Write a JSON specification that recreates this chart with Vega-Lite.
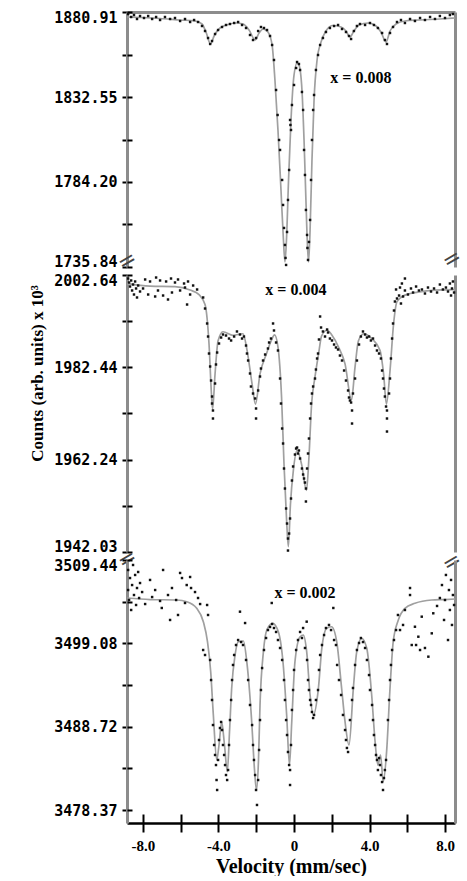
{
"$schema": "https://vega.github.io/schema/vega-lite/v6.json",
"padding": {"left": 28, "top": 10, "right": 2, "bottom": 0},
"bounds": "flush",
"spacing": 8,
"config": {"view": {"stroke": null}, "axis": {"grid": false}},
"datasets": {
"f1": [{"v":-8.84,"c":1878.07},{"v":-8.15,"c":1877.78},{"v":-7.09,"c":1877.21},{"v":-6.03,"c":1876.36},{"v":-5.24,"c":1875.79},{"v":-4.87,"c":1874.08},{"v":-4.66,"c":1869.53},{"v":-4.42,"c":1862.71},{"v":-4.23,"c":1867.26},{"v":-3.92,"c":1871.81},{"v":-3.49,"c":1873.8},{"v":-3.07,"c":1874.65},{"v":-2.7,"c":1874.08},{"v":-2.38,"c":1870.67},{"v":-2.06,"c":1864.98},{"v":-1.85,"c":1868.96},{"v":-1.64,"c":1871.24},{"v":-1.38,"c":1869.53},{"v":-1.16,"c":1862.14},{"v":-1.01,"c":1842.23},{"v":-0.85,"c":1813.79},{"v":-0.69,"c":1779.66},{"v":-0.56,"c":1751.22},{"v":-0.48,"c":1738.7},{"v":-0.4,"c":1751.22},{"v":-0.29,"c":1785.35},{"v":-0.16,"c":1819.47},{"v":0.0,"c":1845.07},{"v":0.16,"c":1851.9},{"v":0.26,"c":1850.77},{"v":0.42,"c":1836.54},{"v":0.53,"c":1808.1},{"v":0.63,"c":1774.0},{"v":0.71,"c":1748.37},{"v":0.77,"c":1738.7},{"v":0.85,"c":1756.91},{"v":0.95,"c":1796.72},{"v":1.06,"c":1830.85},{"v":1.22,"c":1853.61},{"v":1.43,"c":1863.85},{"v":1.69,"c":1870.1},{"v":2.06,"c":1873.23},{"v":2.49,"c":1872.38},{"v":2.75,"c":1870.1},{"v":2.96,"c":1866.69},{"v":3.17,"c":1870.1},{"v":3.44,"c":1873.52},{"v":3.92,"c":1874.65},{"v":4.34,"c":1872.95},{"v":4.6,"c":1869.53},{"v":4.87,"c":1863.85},{"v":5.08,"c":1870.1},{"v":5.4,"c":1874.08},{"v":5.87,"c":1875.79},{"v":6.67,"c":1876.36},{"v":7.72,"c":1876.93},{"v":8.52,"c":1877.5}],
"p1": [{"v":-8.78,"c":1879.77},{"v":-8.62,"c":1878.07},{"v":-8.47,"c":1879.2},{"v":-8.31,"c":1876.93},{"v":-8.15,"c":1878.63},{"v":-7.94,"c":1877.5},{"v":-7.72,"c":1878.63},{"v":-7.51,"c":1876.93},{"v":-7.3,"c":1878.07},{"v":-7.09,"c":1876.36},{"v":-6.83,"c":1878.07},{"v":-6.56,"c":1876.93},{"v":-6.3,"c":1877.5},{"v":-6.03,"c":1875.79},{"v":-5.77,"c":1876.93},{"v":-5.5,"c":1875.22},{"v":-5.29,"c":1876.36},{"v":-5.08,"c":1875.22},{"v":-4.87,"c":1872.95},{"v":-4.71,"c":1870.1},{"v":-4.55,"c":1866.12},{"v":-4.44,"c":1862.71},{"v":-4.34,"c":1864.41},{"v":-4.18,"c":1868.4},{"v":-4.02,"c":1870.67},{"v":-3.81,"c":1872.38},{"v":-3.6,"c":1873.52},{"v":-3.39,"c":1874.08},{"v":-3.17,"c":1874.65},{"v":-2.96,"c":1875.22},{"v":-2.75,"c":1873.52},{"v":-2.54,"c":1871.81},{"v":-2.33,"c":1867.83},{"v":-2.17,"c":1864.98},{"v":-2.01,"c":1866.12},{"v":-1.9,"c":1870.1},{"v":-1.75,"c":1872.38},{"v":-1.59,"c":1871.81},{"v":-1.43,"c":1870.67},{"v":-1.27,"c":1867.26},{"v":-1.16,"c":1862.14},{"v":-1.06,"c":1853.61},{"v":-0.95,"c":1836.54},{"v":-0.87,"c":1822.32},{"v":-0.79,"c":1808.1},{"v":-0.74,"c":1802.42},{"v":-0.63,"c":1785.35},{"v":-0.58,"c":1771.13},{"v":-0.53,"c":1758.05},{"v":-0.48,"c":1748.38},{"v":-0.45,"c":1740.99},{"v":-0.42,"c":1737.0},{"v":-0.37,"c":1755.77},{"v":-0.32,"c":1773.98},{"v":-0.26,"c":1791.04},{"v":-0.21,"c":1819.48},{"v":-0.19,"c":1816.64},{"v":-0.16,"c":1813.79},{"v":-0.11,"c":1828.01},{"v":0.0,"c":1839.39},{"v":0.11,"c":1849.06},{"v":0.16,"c":1852.47},{"v":0.26,"c":1851.33},{"v":0.32,"c":1847.92},{"v":0.42,"c":1835.41},{"v":0.48,"c":1825.17},{"v":0.53,"c":1802.42},{"v":0.58,"c":1788.2},{"v":0.63,"c":1768.29},{"v":0.69,"c":1754.07},{"v":0.71,"c":1746.67},{"v":0.74,"c":1739.85},{"v":0.79,"c":1750.09},{"v":0.85,"c":1762.6},{"v":0.9,"c":1785.35},{"v":0.95,"c":1808.1},{"v":1.01,"c":1825.17},{"v":1.06,"c":1833.7},{"v":1.16,"c":1847.92},{"v":1.27,"c":1856.45},{"v":1.38,"c":1862.14},{"v":1.53,"c":1866.12},{"v":1.69,"c":1869.53},{"v":1.9,"c":1871.81},{"v":2.12,"c":1872.95},{"v":2.33,"c":1873.52},{"v":2.54,"c":1871.24},{"v":2.75,"c":1869.53},{"v":2.91,"c":1867.26},{"v":3.02,"c":1865.55},{"v":3.17,"c":1870.1},{"v":3.33,"c":1872.95},{"v":3.49,"c":1874.08},{"v":3.76,"c":1873.52},{"v":4.02,"c":1874.65},{"v":4.23,"c":1873.52},{"v":4.44,"c":1871.81},{"v":4.66,"c":1868.97},{"v":4.81,"c":1864.98},{"v":4.92,"c":1862.71},{"v":5.08,"c":1868.97},{"v":5.24,"c":1872.38},{"v":5.45,"c":1875.22},{"v":5.66,"c":1876.36},{"v":5.87,"c":1874.65},{"v":6.14,"c":1876.93},{"v":6.4,"c":1875.79},{"v":6.67,"c":1877.5},{"v":6.93,"c":1876.36},{"v":7.2,"c":1878.07},{"v":7.46,"c":1876.93},{"v":7.72,"c":1878.63},{"v":7.99,"c":1877.5},{"v":8.25,"c":1879.2},{"v":8.41,"c":1879.77}],
"f2": [{"v":-8.84,"c":2000.77},{"v":-7.62,"c":2000.22},{"v":-6.3,"c":2000.11},{"v":-5.5,"c":1999.34},{"v":-5.03,"c":1998.35},{"v":-4.71,"c":1996.16},{"v":-4.5,"c":1987.59},{"v":-4.37,"c":1976.6},{"v":-4.31,"c":1973.3},{"v":-4.18,"c":1980.99},{"v":-4.02,"c":1988.24},{"v":-3.76,"c":1990.22},{"v":-3.23,"c":1989.45},{"v":-2.7,"c":1989.78},{"v":-2.49,"c":1986.27},{"v":-2.22,"c":1978.79},{"v":-2.04,"c":1974.4},{"v":-1.8,"c":1980.99},{"v":-1.46,"c":1985.39},{"v":-1.19,"c":1988.46},{"v":-1.03,"c":1989.56},{"v":-0.85,"c":1986.93},{"v":-0.66,"c":1975.94},{"v":-0.53,"c":1961.21},{"v":-0.4,"c":1949.56},{"v":-0.3,"c":1943.19},{"v":-0.19,"c":1952.42},{"v":-0.03,"c":1960.11},{"v":0.16,"c":1964.29},{"v":0.4,"c":1961.21},{"v":0.66,"c":1955.5},{"v":0.79,"c":1962.75},{"v":0.93,"c":1974.4},{"v":1.11,"c":1980.33},{"v":1.3,"c":1985.39},{"v":1.46,"c":1989.34},{"v":1.75,"c":1990.55},{"v":2.01,"c":1989.45},{"v":2.35,"c":1986.93},{"v":2.7,"c":1983.19},{"v":3.04,"c":1975.28},{"v":3.23,"c":1982.53},{"v":3.41,"c":1988.24},{"v":3.68,"c":1989.78},{"v":4.13,"c":1988.68},{"v":4.55,"c":1986.16},{"v":4.74,"c":1980.99},{"v":4.89,"c":1974.4},{"v":5.08,"c":1981.65},{"v":5.27,"c":1991.98},{"v":5.45,"c":1996.82},{"v":5.87,"c":1998.24},{"v":6.56,"c":1998.9},{"v":7.46,"c":1999.34},{"v":8.52,"c":1999.45}],
"p2": [{"v":-8.78,"c":2001.87},{"v":-8.73,"c":2001.0},{"v":-8.68,"c":2000.12},{"v":-8.62,"c":2001.44},{"v":-8.57,"c":1999.25},{"v":-8.52,"c":2000.56},{"v":-8.47,"c":1998.37},{"v":-8.41,"c":2001.22},{"v":-8.36,"c":1999.69},{"v":-8.31,"c":1997.72},{"v":-8.25,"c":2000.34},{"v":-8.15,"c":1999.03},{"v":-7.88,"c":2001.66},{"v":-7.62,"c":2001.22},{"v":-7.3,"c":2002.09},{"v":-7.09,"c":2001.44},{"v":-6.77,"c":2001.22},{"v":-6.51,"c":2001.87},{"v":-6.3,"c":2001.0},{"v":-6.14,"c":2001.66},{"v":-5.82,"c":2000.78},{"v":-5.61,"c":2001.22},{"v":-5.34,"c":2000.34},{"v":-5.13,"c":1999.47},{"v":-7.99,"c":1999.69},{"v":-7.72,"c":1998.37},{"v":-7.35,"c":1997.94},{"v":-7.2,"c":1999.25},{"v":-6.93,"c":1998.15},{"v":-6.67,"c":1997.28},{"v":-6.46,"c":1998.81},{"v":-6.03,"c":1999.25},{"v":-5.77,"c":1999.9},{"v":-5.5,"c":1998.37},{"v":-5.66,"c":1996.18},{"v":-4.81,"c":1997.72},{"v":-4.71,"c":1995.31},{"v":-4.6,"c":1992.03},{"v":-4.55,"c":1989.18},{"v":-4.5,"c":1985.46},{"v":-4.44,"c":1982.62},{"v":-4.39,"c":1979.55},{"v":-4.34,"c":1976.05},{"v":-4.34,"c":1974.52},{"v":-4.29,"c":1972.99},{"v":-4.29,"c":1971.24},{"v":-4.18,"c":1978.9},{"v":-4.13,"c":1983.06},{"v":-4.07,"c":1985.68},{"v":-3.97,"c":1987.65},{"v":-3.86,"c":1988.96},{"v":-3.76,"c":1989.62},{"v":-3.6,"c":1989.4},{"v":-3.44,"c":1988.74},{"v":-3.33,"c":1988.31},{"v":-3.17,"c":1989.18},{"v":-3.02,"c":1990.28},{"v":-2.86,"c":1989.62},{"v":-2.75,"c":1988.74},{"v":-2.65,"c":1989.18},{"v":-2.54,"c":1987.21},{"v":-2.49,"c":1985.46},{"v":-2.43,"c":1983.93},{"v":-2.33,"c":1981.09},{"v":-2.28,"c":1978.24},{"v":-2.17,"c":1976.71},{"v":-2.06,"c":1975.62},{"v":-2.01,"c":1973.43},{"v":-2.01,"c":1971.24},{"v":-1.9,"c":1977.37},{"v":-1.8,"c":1980.43},{"v":-1.75,"c":1982.18},{"v":-1.64,"c":1983.93},{"v":-1.53,"c":1985.24},{"v":-1.38,"c":1986.56},{"v":-1.32,"c":1987.87},{"v":-1.22,"c":1988.74},{"v":-1.11,"c":1992.03},{"v":-1.06,"c":1990.5},{"v":-0.95,"c":1987.87},{"v":-0.85,"c":1986.12},{"v":-0.74,"c":1979.99},{"v":-0.69,"c":1974.52},{"v":-0.63,"c":1969.05},{"v":-0.58,"c":1965.77},{"v":-0.53,"c":1960.3},{"v":-0.48,"c":1955.92},{"v":-0.42,"c":1951.55},{"v":-0.37,"c":1948.26},{"v":-0.32,"c":1944.98},{"v":-0.32,"c":1942.35},{"v":-0.26,"c":1946.07},{"v":-0.21,"c":1949.36},{"v":-0.16,"c":1953.73},{"v":-0.11,"c":1957.67},{"v":-0.05,"c":1960.74},{"v":0.05,"c":1963.36},{"v":0.11,"c":1964.67},{"v":0.16,"c":1964.89},{"v":0.21,"c":1963.58},{"v":0.26,"c":1964.24},{"v":0.32,"c":1962.49},{"v":0.42,"c":1960.3},{"v":0.48,"c":1958.99},{"v":0.53,"c":1958.11},{"v":0.58,"c":1957.23},{"v":0.63,"c":1955.92},{"v":0.63,"c":1953.08},{"v":0.69,"c":1960.3},{"v":0.74,"c":1963.58},{"v":0.79,"c":1966.86},{"v":0.85,"c":1971.24},{"v":0.9,"c":1974.52},{"v":0.95,"c":1976.71},{"v":1.01,"c":1978.24},{"v":1.11,"c":1979.99},{"v":1.16,"c":1981.96},{"v":1.22,"c":1984.37},{"v":1.27,"c":1985.46},{"v":1.32,"c":1988.53},{"v":1.38,"c":1993.56},{"v":1.43,"c":1991.15},{"v":1.53,"c":1990.28},{"v":1.64,"c":1989.18},{"v":1.75,"c":1990.71},{"v":1.8,"c":1990.06},{"v":1.9,"c":1988.74},{"v":2.01,"c":1988.31},{"v":2.12,"c":1987.43},{"v":2.22,"c":1986.78},{"v":2.33,"c":1986.34},{"v":2.43,"c":1985.02},{"v":2.54,"c":1983.93},{"v":2.65,"c":1981.74},{"v":2.75,"c":1979.55},{"v":2.86,"c":1977.37},{"v":2.91,"c":1975.83},{"v":2.96,"c":1975.18},{"v":3.02,"c":1974.74},{"v":3.07,"c":1972.99},{"v":3.07,"c":1970.14},{"v":3.12,"c":1976.71},{"v":3.23,"c":1979.99},{"v":3.33,"c":1983.93},{"v":3.44,"c":1987.43},{"v":3.54,"c":1989.18},{"v":3.65,"c":1990.28},{"v":3.76,"c":1989.62},{"v":3.86,"c":1988.96},{"v":3.97,"c":1989.18},{"v":4.07,"c":1988.31},{"v":4.18,"c":1988.74},{"v":4.29,"c":1987.21},{"v":4.39,"c":1986.12},{"v":4.5,"c":1985.46},{"v":4.6,"c":1984.37},{"v":4.66,"c":1981.74},{"v":4.71,"c":1979.99},{"v":4.76,"c":1977.8},{"v":4.81,"c":1976.05},{"v":4.87,"c":1973.86},{"v":4.92,"c":1972.99},{"v":4.92,"c":1971.24},{"v":4.92,"c":1968.39},{"v":5.03,"c":1976.71},{"v":5.08,"c":1979.99},{"v":5.13,"c":1984.37},{"v":5.19,"c":1988.74},{"v":5.24,"c":1992.03},{"v":5.29,"c":1994.87},{"v":5.34,"c":1996.84},{"v":5.45,"c":1997.5},{"v":5.56,"c":1998.15},{"v":5.66,"c":1996.4},{"v":5.77,"c":1997.94},{"v":5.87,"c":1999.25},{"v":6.03,"c":1998.37},{"v":6.19,"c":1999.69},{"v":6.3,"c":1998.81},{"v":6.46,"c":2000.12},{"v":6.61,"c":1999.25},{"v":6.77,"c":1999.47},{"v":6.93,"c":1998.59},{"v":7.09,"c":1999.9},{"v":7.25,"c":1999.03},{"v":7.41,"c":1999.69},{"v":7.57,"c":1998.81},{"v":7.72,"c":2000.56},{"v":7.88,"c":1999.47},{"v":8.04,"c":1999.9},{"v":8.15,"c":1999.03},{"v":8.25,"c":2000.78},{"v":8.31,"c":1998.15},{"v":8.36,"c":1999.69},{"v":8.41,"c":2001.22},{"v":8.47,"c":1998.81},{"v":5.71,"c":2000.78},{"v":5.87,"c":2001.87},{"v":5.61,"c":1999.9},{"v":5.4,"c":1999.47}],
"f3": [{"v":-8.84,"c":3504.72},{"v":-7.62,"c":3504.53},{"v":-6.21,"c":3504.47},{"v":-5.68,"c":3504.26},{"v":-5.15,"c":3503.44},{"v":-4.8,"c":3501.78},{"v":-4.58,"c":3499.29},{"v":-4.41,"c":3495.56},{"v":-4.27,"c":3490.19},{"v":-4.09,"c":3484.6},{"v":-3.97,"c":3486.46},{"v":-3.83,"c":3489.32},{"v":-3.68,"c":3486.46},{"v":-3.53,"c":3483.14},{"v":-3.41,"c":3488.32},{"v":-3.3,"c":3493.5},{"v":-3.12,"c":3497.64},{"v":-2.95,"c":3499.29},{"v":-2.68,"c":3499.38},{"v":-2.5,"c":3496.81},{"v":-2.24,"c":3489.35},{"v":-2.09,"c":3483.35},{"v":-1.99,"c":3480.87},{"v":-1.88,"c":3484.6},{"v":-1.8,"c":3491.43},{"v":-1.62,"c":3498.05},{"v":-1.44,"c":3500.74},{"v":-1.13,"c":3501.58},{"v":-0.83,"c":3500.53},{"v":-0.57,"c":3496.4},{"v":-0.39,"c":3490.19},{"v":-0.24,"c":3483.97},{"v":-0.12,"c":3489.35},{"v":0.05,"c":3496.81},{"v":0.32,"c":3499.91},{"v":0.49,"c":3500.12},{"v":0.67,"c":3498.05},{"v":0.85,"c":3492.67},{"v":1.02,"c":3490.19},{"v":1.29,"c":3493.5},{"v":1.47,"c":3498.47},{"v":1.73,"c":3500.96},{"v":1.99,"c":3501.15},{"v":2.26,"c":3499.29},{"v":2.52,"c":3493.5},{"v":2.7,"c":3489.35},{"v":2.91,"c":3486.46},{"v":3.14,"c":3493.5},{"v":3.32,"c":3498.05},{"v":3.58,"c":3499.71},{"v":3.85,"c":3498.47},{"v":4.11,"c":3492.67},{"v":4.29,"c":3486.87},{"v":4.44,"c":3483.97},{"v":4.58,"c":3485.22},{"v":4.72,"c":3481.9},{"v":4.9,"c":3485.63},{"v":5.08,"c":3493.5},{"v":5.25,"c":3499.29},{"v":5.52,"c":3501.99},{"v":5.87,"c":3503.44},{"v":6.4,"c":3504.06},{"v":7.29,"c":3504.47},{"v":7.98,"c":3504.53},{"v":8.52,"c":3504.6}],
"p3": [{"v":-8.78,"c":3508.2},{"v":-8.78,"c":3505.71},{"v":-8.73,"c":3504.47},{"v":-8.68,"c":3507.2},{"v":-8.62,"c":3503.23},{"v":-8.57,"c":3506.33},{"v":-8.52,"c":3508.82},{"v":-8.47,"c":3505.09},{"v":-8.41,"c":3507.58},{"v":-8.36,"c":3503.85},{"v":-8.31,"c":3505.96},{"v":-8.25,"c":3507.95},{"v":-8.2,"c":3504.72},{"v":-8.15,"c":3506.58},{"v":-8.04,"c":3505.46},{"v":-7.62,"c":3506.96},{"v":-7.35,"c":3505.71},{"v":-7.0,"c":3503.48},{"v":-6.93,"c":3508.2},{"v":-6.67,"c":3505.09},{"v":-6.56,"c":3501.99},{"v":-6.46,"c":3505.96},{"v":-6.24,"c":3504.47},{"v":-6.14,"c":3502.61},{"v":-6.03,"c":3507.83},{"v":-5.93,"c":3507.2},{"v":-5.68,"c":3506.33},{"v":-5.5,"c":3507.33},{"v":-5.45,"c":3505.96},{"v":-5.24,"c":3505.46},{"v":-5.08,"c":3504.72},{"v":-4.97,"c":3503.97},{"v":-4.81,"c":3498.26},{"v":-4.71,"c":3497.64},{"v":-4.6,"c":3503.85},{"v":-4.55,"c":3502.61},{"v":-5.77,"c":3504.1},{"v":-7.09,"c":3504.35},{"v":-7.88,"c":3503.97},{"v":-7.51,"c":3504.84},{"v":-4.44,"c":3497.02},{"v":-4.39,"c":3494.53},{"v":-4.34,"c":3492.05},{"v":-4.29,"c":3488.94},{"v":-4.23,"c":3486.46},{"v":-4.18,"c":3485.22},{"v":-4.13,"c":3483.97},{"v":-4.1,"c":3482.11},{"v":-4.07,"c":3480.87},{"v":-4.02,"c":3484.6},{"v":-3.97,"c":3487.08},{"v":-3.92,"c":3488.57},{"v":-3.86,"c":3489.32},{"v":-3.81,"c":3488.32},{"v":-3.76,"c":3486.46},{"v":-3.7,"c":3485.22},{"v":-3.65,"c":3483.97},{"v":-3.6,"c":3482.73},{"v":-3.54,"c":3482.11},{"v":-3.49,"c":3483.35},{"v":-3.44,"c":3486.46},{"v":-3.39,"c":3489.56},{"v":-3.33,"c":3492.05},{"v":-3.28,"c":3494.53},{"v":-3.23,"c":3496.4},{"v":-3.17,"c":3497.64},{"v":-3.07,"c":3498.88},{"v":-2.96,"c":3499.5},{"v":-2.86,"c":3503.02},{"v":-2.8,"c":3499.25},{"v":-2.7,"c":3498.88},{"v":-2.59,"c":3501.61},{"v":-2.54,"c":3497.02},{"v":-2.43,"c":3494.53},{"v":-2.33,"c":3491.43},{"v":-2.22,"c":3488.94},{"v":-2.17,"c":3486.46},{"v":-2.12,"c":3484.6},{"v":-2.06,"c":3482.73},{"v":-2.01,"c":3480.87},{"v":-1.96,"c":3479.01},{"v":-1.9,"c":3482.11},{"v":-1.85,"c":3485.84},{"v":-1.8,"c":3489.56},{"v":-1.75,"c":3493.29},{"v":-1.69,"c":3496.02},{"v":-1.59,"c":3498.26},{"v":-1.48,"c":3499.75},{"v":-1.38,"c":3500.74},{"v":-1.27,"c":3501.12},{"v":-1.18,"c":3504.1},{"v":-1.16,"c":3501.49},{"v":-1.06,"c":3500.99},{"v":-0.95,"c":3500.5},{"v":-0.85,"c":3499.5},{"v":-0.74,"c":3498.51},{"v":-0.63,"c":3497.02},{"v":-0.53,"c":3494.53},{"v":-0.48,"c":3492.05},{"v":-0.42,"c":3489.56},{"v":-0.37,"c":3487.7},{"v":-0.32,"c":3485.59},{"v":-0.26,"c":3483.97},{"v":-0.21,"c":3483.35},{"v":-0.21,"c":3481.49},{"v":-0.16,"c":3486.46},{"v":-0.11,"c":3490.81},{"v":-0.05,"c":3493.29},{"v":0.0,"c":3495.78},{"v":0.11,"c":3498.26},{"v":0.21,"c":3499.5},{"v":0.32,"c":3500.5},{"v":0.42,"c":3499.75},{"v":0.48,"c":3500.99},{"v":0.58,"c":3498.51},{"v":0.67,"c":3501.78},{"v":0.69,"c":3497.02},{"v":0.74,"c":3494.53},{"v":0.79,"c":3493.29},{"v":0.85,"c":3492.05},{"v":0.9,"c":3491.43},{"v":0.95,"c":3490.56},{"v":1.01,"c":3489.81},{"v":1.06,"c":3490.19},{"v":1.16,"c":3492.05},{"v":1.27,"c":3493.29},{"v":1.32,"c":3495.78},{"v":1.38,"c":3497.64},{"v":1.48,"c":3498.88},{"v":1.59,"c":3500.12},{"v":1.69,"c":3500.99},{"v":1.85,"c":3501.37},{"v":1.96,"c":3500.74},{"v":2.08,"c":3503.48},{"v":2.12,"c":3499.5},{"v":2.22,"c":3498.88},{"v":2.28,"c":3496.4},{"v":2.38,"c":3494.53},{"v":2.49,"c":3492.67},{"v":2.59,"c":3490.19},{"v":2.7,"c":3488.32},{"v":2.75,"c":3487.08},{"v":2.8,"c":3486.09},{"v":2.86,"c":3485.59},{"v":2.96,"c":3489.56},{"v":3.07,"c":3492.05},{"v":3.12,"c":3493.54},{"v":3.23,"c":3496.4},{"v":3.33,"c":3498.26},{"v":3.44,"c":3499.13},{"v":3.54,"c":3499.75},{"v":3.65,"c":3499.25},{"v":3.76,"c":3498.51},{"v":3.86,"c":3497.02},{"v":3.97,"c":3495.15},{"v":4.02,"c":3493.29},{"v":4.13,"c":3491.43},{"v":4.18,"c":3489.56},{"v":4.23,"c":3487.7},{"v":4.29,"c":3486.46},{"v":4.34,"c":3485.22},{"v":4.39,"c":3484.6},{"v":4.44,"c":3483.35},{"v":4.5,"c":3484.84},{"v":4.55,"c":3483.97},{"v":4.6,"c":3482.73},{"v":4.66,"c":3481.86},{"v":4.71,"c":3480.87},{"v":4.76,"c":3482.36},{"v":4.81,"c":3483.35},{"v":4.87,"c":3484.6},{"v":4.97,"c":3489.56},{"v":5.03,"c":3492.05},{"v":5.08,"c":3494.53},{"v":5.13,"c":3496.4},{"v":5.19,"c":3498.26},{"v":5.29,"c":3499.5},{"v":5.4,"c":3500.74},{"v":5.5,"c":3502.61},{"v":5.61,"c":3500.74},{"v":5.77,"c":3501.37},{"v":5.87,"c":3503.23},{"v":6.14,"c":3505.96},{"v":6.14,"c":3505.09},{"v":6.23,"c":3498.88},{"v":6.4,"c":3501.15},{"v":6.46,"c":3498.88},{"v":6.58,"c":3499.91},{"v":6.67,"c":3498.26},{"v":6.76,"c":3502.4},{"v":6.93,"c":3498.51},{"v":7.11,"c":3497.43},{"v":7.29,"c":3500.33},{"v":7.37,"c":3502.82},{"v":7.57,"c":3503.73},{"v":7.72,"c":3504.72},{"v":7.83,"c":3506.33},{"v":7.94,"c":3501.99},{"v":7.99,"c":3504.47},{"v":8.04,"c":3507.58},{"v":8.15,"c":3499.5},{"v":8.2,"c":3505.71},{"v":8.25,"c":3503.23},{"v":8.31,"c":3506.96},{"v":8.36,"c":3501.37},{"v":8.41,"c":3505.09},{"v":8.47,"c":3503.85}]
},
"vconcat": [
{
"width": 328, "height": 255,
"layer": [
{"data": {"name": "f1"}, "mark": {"type": "line", "interpolate": "monotone", "color": "#a0a0a0", "strokeWidth": 1.7},
 "encoding": {
  "x": {"field": "v", "type": "quantitative", "scale": {"domain": [-8.84, 8.52], "nice": false, "zero": false}, "axis": {"orient": "top", "domainColor": "#8c8c8c", "domainWidth": 3, "ticks": false, "labels": false, "title": null}},
  "y": {"field": "c", "type": "quantitative", "scale": {"domain": [1735.84, 1880.91], "nice": false, "zero": false}, "axis": {"orient": "left", "values": [1735.84, 1760.02, 1784.2, 1808.375, 1832.55, 1856.73, 1880.91], "labelExpr": "round(datum.index*6) % 2 == 0 ? format(datum.value, '.2f') : ''", "labelFont": "DejaVu Sans Mono", "labelFontSize": 15, "labelFontWeight": "bold", "labelColor": "#000", "labelPadding": 5, "labelFlush": true, "labelFlushOffset": 2, "labelOverlap": false, "tickSize": 5, "tickWidth": 2, "tickColor": "#000", "domainColor": "#8c8c8c", "domainWidth": 3, "title": null}}
 }},
{"data": {"name": "p1"}, "mark": {"type": "point", "shape": "square", "filled": true, "size": 6, "color": "#111", "opacity": 1},
 "encoding": {
  "x": {"field": "v", "type": "quantitative", "axis": null},
  "y": {"field": "c", "type": "quantitative", "axis": {"orient": "right", "domainColor": "#8c8c8c", "domainWidth": 3, "ticks": false, "labels": false, "title": null}}
 }},
{"data": {"values": [{"v": 3.54, "c": 1843.5, "t": "x = 0.008"}]}, "mark": {"type": "text", "font": "Liberation Serif", "fontWeight": "bold", "fontSize": 16, "align": "center", "baseline": "middle", "color": "#000"},
 "encoding": {
  "x": {"field": "v", "type": "quantitative", "axis": null},
  "y": {"field": "c", "type": "quantitative", "axis": {"orient": "left", "values": [1735.84, 1760.02, 1784.2, 1808.375, 1832.55, 1856.73, 1880.91], "labels": false, "domain": false, "tickSize": -5, "tickWidth": 2, "tickColor": "#000", "title": null}},
  "text": {"field": "t"}
 }}
],
"resolve": {"axis": {"x": "independent", "y": "independent"}}
},
{
"width": 328, "height": 277,
"layer": [
{"data": {"name": "f2"}, "mark": {"type": "line", "interpolate": "monotone", "color": "#a0a0a0", "strokeWidth": 1.7},
 "encoding": {
  "x": {"field": "v", "type": "quantitative", "scale": {"domain": [-8.84, 8.52], "nice": false, "zero": false}, "axis": null},
  "y": {"field": "c", "type": "quantitative", "scale": {"domain": [1942.03, 2002.64], "nice": false, "zero": false}, "axis": {"orient": "left", "values": [1942.03, 1952.13, 1962.24, 1972.34, 1982.44, 1992.54, 2002.64], "labelExpr": "round(datum.index*6) % 2 == 0 ? format(datum.value, '.2f') : ''", "labelFont": "DejaVu Sans Mono", "labelFontSize": 15, "labelFontWeight": "bold", "labelColor": "#000", "labelPadding": 5, "labelFlush": true, "labelFlushOffset": 2, "labelOverlap": false, "tickSize": 5, "tickWidth": 2, "tickColor": "#000", "domainColor": "#8c8c8c", "domainWidth": 3, "title": "Counts (arb. units) x 10³", "titleFont": "Liberation Serif", "titleFontSize": 17, "titleFontWeight": "bold", "titleColor": "#000", "titleAngle": 270, "titleX": -85, "titleY": 98, "titleAlign": "center", "titleBaseline": "alphabetic"}}
 }},
{"data": {"name": "p2"}, "mark": {"type": "point", "shape": "square", "filled": true, "size": 6, "color": "#111", "opacity": 1},
 "encoding": {
  "x": {"field": "v", "type": "quantitative", "axis": null},
  "y": {"field": "c", "type": "quantitative", "axis": {"orient": "right", "domainColor": "#8c8c8c", "domainWidth": 3, "ticks": false, "labels": false, "title": null}}
 }},
{"data": {"values": [{"v": 0.1, "c": 1999.25, "t": "x = 0.004"}]}, "mark": {"type": "text", "font": "Liberation Serif", "fontWeight": "bold", "fontSize": 16, "align": "center", "baseline": "middle", "color": "#000"},
 "encoding": {
  "x": {"field": "v", "type": "quantitative", "axis": null},
  "y": {"field": "c", "type": "quantitative", "axis": {"orient": "left", "values": [1942.03, 1952.13, 1962.24, 1972.34, 1982.44, 1992.54, 2002.64], "labels": false, "domain": false, "tickSize": -5, "tickWidth": 2, "tickColor": "#000", "title": null}},
  "text": {"field": "t"}
 }},
{"data": {"values": [{"v": -8.84, "c": 2005.8}, {"v": 8.35, "c": 2006.2}, {"v": -8.84, "c": 1940.5}, {"v": 8.35, "c": 1939.9}]}, "mark": {"type": "text", "text": "=", "font": "DejaVu Sans", "fontSize": 22, "angle": 330, "align": "center", "baseline": "middle", "color": "#444"},
 "encoding": {
  "x": {"field": "v", "type": "quantitative", "axis": null},
  "y": {"field": "c", "type": "quantitative", "axis": null}
 }}
],
"resolve": {"axis": {"x": "independent", "y": "independent"}}
},
{
"width": 328, "height": 263,
"layer": [
{"data": {"name": "f3"}, "mark": {"type": "line", "interpolate": "monotone", "color": "#a0a0a0", "strokeWidth": 1.7},
 "encoding": {
  "x": {"field": "v", "type": "quantitative", "scale": {"domain": [-8.84, 8.52], "nice": false, "zero": false}, "axis": {"orient": "bottom", "values": [-8, -6, -4, -2, 0, 2, 4, 6, 8], "labelExpr": "datum.value == 0 ? '0' : (datum.value % 4 == 0 ? datum.value + '.0' : '')", "labelFont": "Liberation Serif", "labelFontSize": 15, "labelFontWeight": "bold", "labelColor": "#000", "labelPadding": 6, "labelFlush": false, "labelOverlap": false, "tickSize": 9, "tickWidth": 2, "tickColor": "#000", "domainColor": "#000", "domainWidth": 2.5, "title": "Velocity (mm/sec)", "titleFont": "Liberation Serif", "titleFontSize": 20, "titleFontWeight": "bold", "titleColor": "#000", "titlePadding": 3}},
  "y": {"field": "c", "type": "quantitative", "scale": {"domain": [3476.77, 3509.44], "nice": false, "zero": false}, "axis": {"orient": "left", "values": [3478.37, 3483.55, 3488.72, 3493.9, 3499.08, 3504.26, 3509.44], "labelExpr": "round(datum.index*6) % 2 == 0 ? format(datum.value, '.2f') : ''", "labelFont": "DejaVu Sans Mono", "labelFontSize": 15, "labelFontWeight": "bold", "labelColor": "#000", "labelPadding": 5, "labelFlush": true, "labelFlushOffset": 2, "labelOverlap": false, "tickSize": 5, "tickWidth": 2, "tickColor": "#000", "domainColor": "#8c8c8c", "domainWidth": 3, "title": null}}
 }},
{"data": {"name": "p3"}, "mark": {"type": "point", "shape": "square", "filled": true, "size": 6, "color": "#111", "opacity": 1},
 "encoding": {
  "x": {"field": "v", "type": "quantitative", "axis": {"orient": "bottom", "values": [-8, -6, -4, -2, 0, 2, 4, 6, 8], "labels": false, "domain": false, "tickSize": -9, "tickWidth": 2, "tickColor": "#000", "title": null}},
  "y": {"field": "c", "type": "quantitative", "axis": {"orient": "right", "domainColor": "#8c8c8c", "domainWidth": 3, "ticks": false, "labels": false, "title": null}}
 }},
{"data": {"values": [{"v": 0.58, "c": 3505.3, "t": "x = 0.002"}]}, "mark": {"type": "text", "font": "Liberation Serif", "fontWeight": "bold", "fontSize": 16, "align": "center", "baseline": "middle", "color": "#000"},
 "encoding": {
  "x": {"field": "v", "type": "quantitative", "axis": null},
  "y": {"field": "c", "type": "quantitative", "axis": {"orient": "left", "values": [3478.37, 3483.55, 3488.72, 3493.9, 3499.08, 3504.26, 3509.44], "labels": false, "domain": false, "tickSize": -5, "tickWidth": 2, "tickColor": "#000", "title": null}},
  "text": {"field": "t"}
 }}
],
"resolve": {"axis": {"x": "independent", "y": "independent"}}
}
]
}
